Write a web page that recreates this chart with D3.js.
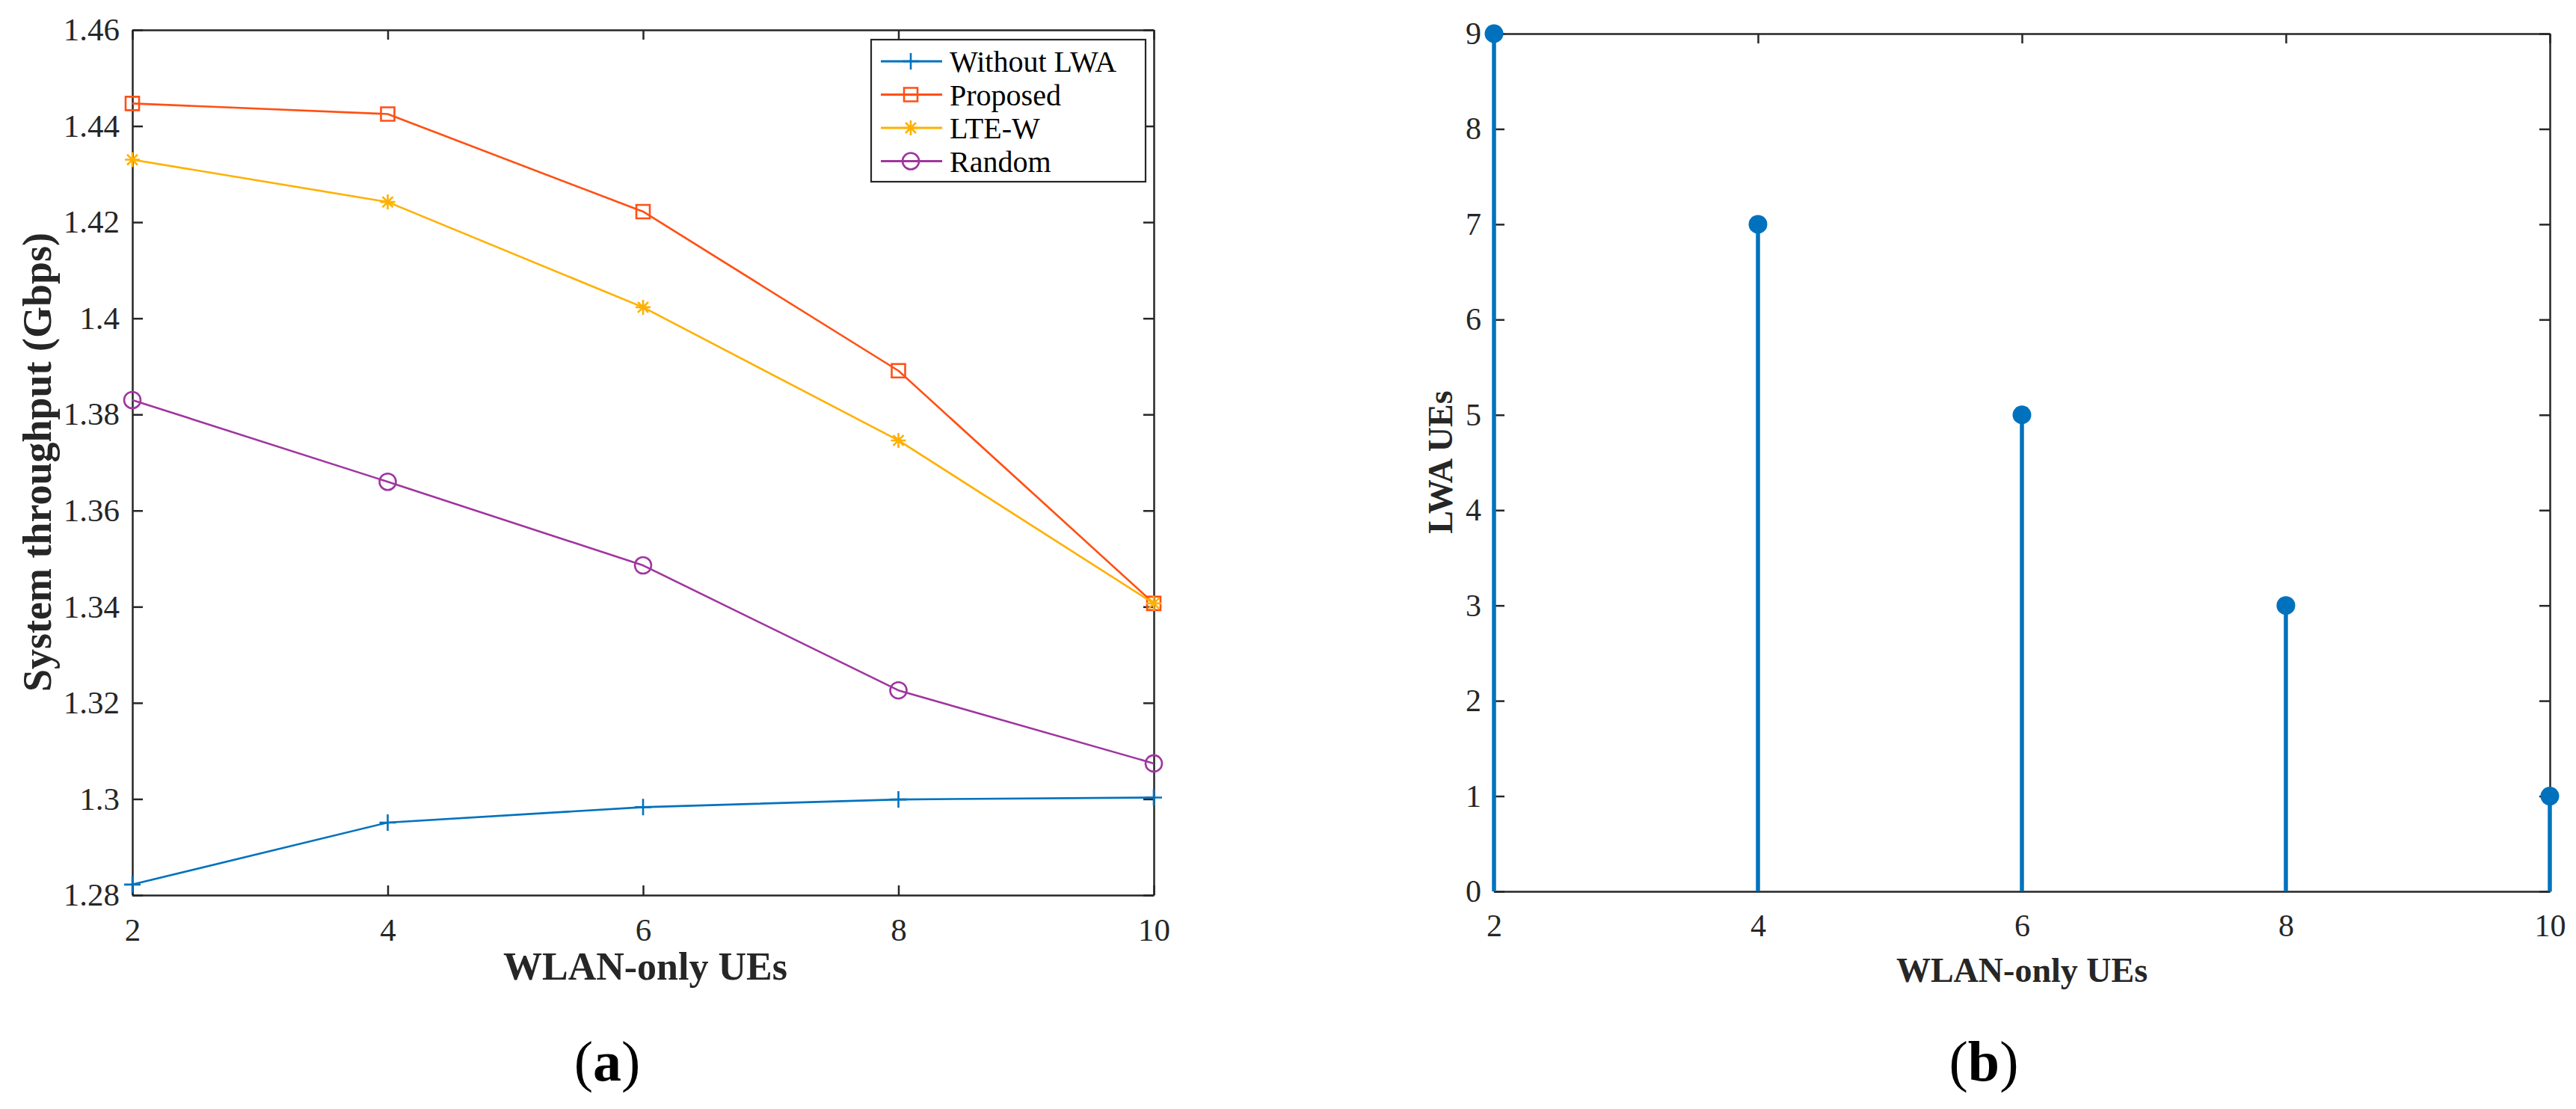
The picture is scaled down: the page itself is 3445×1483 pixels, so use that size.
<!DOCTYPE html>
<html><head><meta charset="utf-8">
<script src="https://cdn.jsdelivr.net/npm/d3@7"></script>
<style>body{margin:0;background:#fff} svg{display:block}</style>
</head><body>
<svg id="c" width="3445" height="1483"></svg>
<script>
// ---------- data ----------
const xValues = [2, 4, 6, 8, 10];
const withoutLWA = [1.2822, 1.2951, 1.2983, 1.2999, 1.3003];
const proposed   = [1.4447, 1.4425, 1.4222, 1.3891, 1.3407];
const lteW       = [1.4330, 1.4242, 1.4023, 1.3746, 1.3407];
const randomSel  = [1.3830, 1.3660, 1.3486, 1.3226, 1.3074];
const seriesNames = ["Without LWA", "Proposed", "LTE-W", "Random"];
const leftYTicks = [1.28, 1.3, 1.32, 1.34, 1.36, 1.38, 1.4, 1.42, 1.44, 1.46];
const xTicks = [2, 4, 6, 8, 10];
const lwaUEs = [9, 7, 5, 3, 1];
const rightYTicks = [0, 1, 2, 3, 4, 5, 6, 7, 8, 9];

// ---------- styles ----------
const FONT = "'Liberation Serif', 'Times New Roman', serif";
const AX = "#262626";
const colors = ["#0072BD", "#FF5014", "#FFB000", "#A0359F"];
const markers = ["plus", "square", "star", "circle"];
const seriesData = [withoutLWA, proposed, lteW, randomSel];

const svg = d3.select("#c");
svg.append("rect").attr("width", 3445).attr("height", 1483).attr("fill", "#fff");

function markerPath(type) {
  const p = d3.path();
  if (type === "plus") { const a = 11; p.moveTo(-a, 0); p.lineTo(a, 0); p.moveTo(0, -a); p.lineTo(0, a); }
  else if (type === "square") { const a = 9; p.rect(-a, -a, 2 * a, 2 * a); }
  else if (type === "star") { const a = 10, b = 7; p.moveTo(-a, 0); p.lineTo(a, 0); p.moveTo(0, -a); p.lineTo(0, a);
    p.moveTo(-b, -b); p.lineTo(b, b); p.moveTo(-b, b); p.lineTo(b, -b); }
  else if (type === "circle") { const r = 11; p.moveTo(r, 0); p.arc(0, 0, r, 0, 2 * Math.PI); }
  return p.toString();
}

function styleAxis(g, fs, showText) {
  g.select(".domain").attr("stroke", AX).attr("stroke-width", 2.5);
  g.selectAll(".tick line").attr("stroke", AX).attr("stroke-width", 2.5);
  g.selectAll(".tick text").attr("fill", AX).style("font-family", FONT).style("font-size", fs + "px");
  if (!showText) g.selectAll(".tick text").remove();
}

function frame(x, y, yTicks, fmt, fs) {
  const [x0, x1] = x.range(), [y0, y1] = y.range();
  const gb = svg.append("g").attr("transform", `translate(0,${y0})`)
    .call(d3.axisBottom(x).tickValues(xTicks).tickSizeInner(-13).tickSizeOuter(0).tickPadding(30).tickFormat(d3.format("d")));
  styleAxis(gb, fs, true);
  const gt = svg.append("g").attr("transform", `translate(0,${y1})`)
    .call(d3.axisTop(x).tickValues(xTicks).tickSizeInner(-13).tickSizeOuter(0));
  styleAxis(gt, fs, false);
  const gl = svg.append("g").attr("transform", `translate(${x0},0)`)
    .call(d3.axisLeft(y).tickValues(yTicks).tickSizeInner(-14).tickSizeOuter(0).tickPadding(17).tickFormat(fmt));
  styleAxis(gl, fs, true);
  const gr = svg.append("g").attr("transform", `translate(${x1},0)`)
    .call(d3.axisRight(y).tickValues(yTicks).tickSizeInner(-14).tickSizeOuter(0));
  styleAxis(gr, fs, false);
}

// ---------- panel (a) ----------
const xa = d3.scaleLinear().domain([2, 10]).range([177, 1543]);
const ya = d3.scaleLinear().domain([1.28, 1.46]).range([1197, 40]);
frame(xa, ya, leftYTicks, d => String(+d.toFixed(2)), 43);

const line = d3.line().x((d, i) => xa(xValues[i])).y(d => ya(d));
seriesData.forEach((vals, s) => {
  const g = svg.append("g");
  g.append("path").datum(vals).attr("d", line).attr("fill", "none")
    .attr("stroke", colors[s]).attr("stroke-width", 2.6).attr("stroke-linejoin", "round");
  g.selectAll("path.m").data(vals).join("path").attr("class", "m")
    .attr("transform", (d, i) => `translate(${xa(xValues[i])},${ya(d)})`)
    .attr("d", markerPath(markers[s])).attr("fill", "none")
    .attr("stroke", colors[s]).attr("stroke-width", 2.6);
});

// legend
const lg = svg.append("g");
lg.append("rect").attr("x", 1165).attr("y", 53).attr("width", 367).attr("height", 190)
  .attr("fill", "#fff").attr("stroke", AX).attr("stroke-width", 2.2);
seriesNames.forEach((name, s) => {
  const cy = 82 + s * 44.5;
  lg.append("line").attr("x1", 1178).attr("x2", 1260).attr("y1", cy).attr("y2", cy)
    .attr("stroke", colors[s]).attr("stroke-width", 2.8);
  lg.append("path").attr("transform", `translate(1218,${cy})`).attr("d", markerPath(markers[s]))
    .attr("fill", "none").attr("stroke", colors[s]).attr("stroke-width", 2.6);
  lg.append("text").attr("x", 1270).attr("y", cy + 14).text(name)
    .style("font-family", FONT).style("font-size", "40px").attr("fill", "#000");
});

svg.append("text").attr("transform", "translate(68,618) rotate(-90)").attr("text-anchor", "middle")
  .style("font-family", FONT).style("font-size", "54px").style("font-weight", "bold").attr("fill", AX)
  .text("System throughput (Gbps)");
svg.append("text").attr("x", 863).attr("y", 1310).attr("text-anchor", "middle")
  .style("font-family", FONT).style("font-size", "52px").style("font-weight", "bold").attr("fill", AX)
  .text("WLAN-only UEs");

function caption(cx, letter) {
  const t = svg.append("text").attr("x", cx).attr("y", 1445).attr("text-anchor", "middle")
    .style("font-family", FONT).style("font-size", "76px").attr("fill", "#000");
  t.append("tspan").text("(");
  t.append("tspan").style("font-weight", "bold").text(letter);
  t.append("tspan").text(")");
}
caption(812, "a");

// ---------- panel (b) ----------
const xb = d3.scaleLinear().domain([2, 10]).range([1998, 3410]);
const yb = d3.scaleLinear().domain([0, 9]).range([1192, 45]);
frame(xb, yb, rightYTicks, d3.format("d"), 42);

const stems = svg.append("g");
stems.selectAll("line").data(lwaUEs).join("line")
  .attr("x1", (d, i) => xb(xValues[i])).attr("x2", (d, i) => xb(xValues[i]))
  .attr("y1", yb(0)).attr("y2", d => yb(d))
  .attr("stroke", "#0072BD").attr("stroke-width", 5.5);
stems.selectAll("circle").data(lwaUEs).join("circle")
  .attr("cx", (d, i) => xb(xValues[i])).attr("cy", d => yb(d)).attr("r", 12.5)
  .attr("fill", "#0072BD");

svg.append("text").attr("transform", "translate(1942,618) rotate(-90)").attr("text-anchor", "middle")
  .style("font-family", FONT).style("font-size", "46px").style("font-weight", "bold").attr("fill", AX)
  .text("LWA UEs");
svg.append("text").attr("x", 2704).attr("y", 1313).attr("text-anchor", "middle")
  .style("font-family", FONT).style("font-size", "46px").style("font-weight", "bold").attr("fill", AX)
  .text("WLAN-only UEs");
caption(2653, "b");
</script>
</body></html>
